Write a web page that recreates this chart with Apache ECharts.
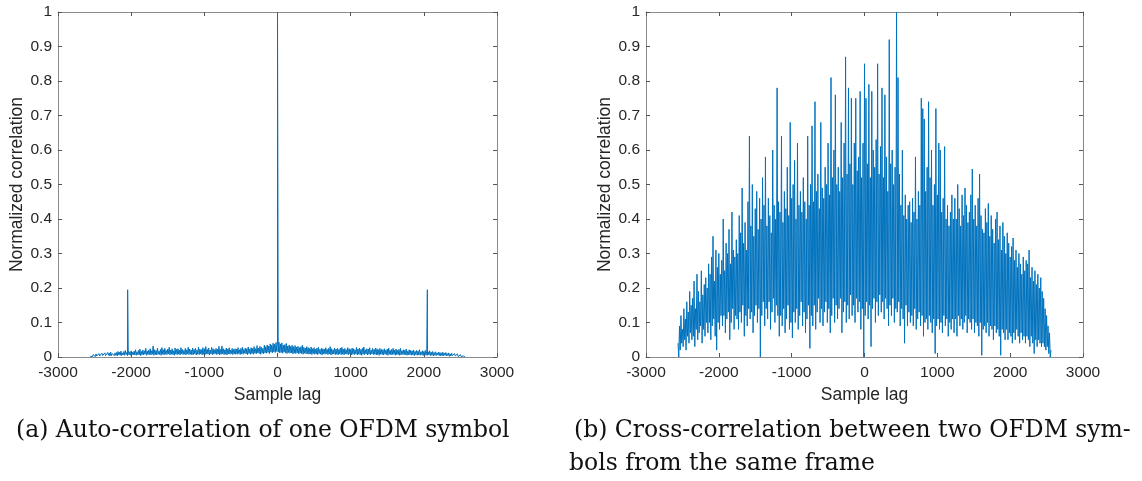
<!DOCTYPE html>
<html>
<head>
<meta charset="utf-8">
<script src="https://cdn.jsdelivr.net/npm/echarts@6/dist/echarts.min.js"></script>
<style>
html,body{margin:0;padding:0;background:#fff;}
#chart{width:1142px;height:481px;}
</style>
</head>
<body>
<div id="chart"></div>
<script>
// ---- Data ----
const xTicks = [-3000, -2000, -1000, 0, 1000, 2000, 3000];
const yTicks = [0, 0.1, 0.2, 0.3, 0.4, 0.5, 0.6, 0.7, 0.8, 0.9, 1];

// Sample-lag grid: peaks at lagStart + step*i, troughs half a step later
const lagStart = -2560;
const lagStep = 20;

// (a) Auto-correlation: local maxima (upper edge of the noise floor)
const autoPeaks = [
  .002,.005,.007,.006,.009,.007,.010,.008,.011,.009,
  .012,.009,.013,.011,.014,.010,.015,.012,.013,.016,
  .014,.017,.012,.016,.019,.013,.020,.015,.018,.014,
  .017,.021,.015,.019,.023,.016,.020,.018,.025,.017,
  .020,.024,.018,.032,.021,.019,.026,.017,.022,.027,
  .021,.025,.019,.023,.028,.020,.024,.018,.026,.022,
  .024,.020,.027,.022,.019,.025,.021,.028,.023,.020,
  .026,.022,.025,.020,.029,.023,.021,.027,.024,.030,
  .022,.026,.020,.028,.024,.021,.025,.023,.031,.022,
  .032,.024,.021,.026,.023,.027,.020,.025,.022,.024,
  .023,.027,.021,.025,.028,.022,.026,.024,.029,.023,
  .027,.025,.030,.024,.033,.026,.031,.028,.025,.034,
  .030,.035,.032,.038,.034,.040,.037,.042,.046,.043,
  .038,.041,.034,.036,.039,.032,.035,.031,.034,.030,
  .033,.029,.031,.027,.030,.034,.028,.026,.030,.027,
  .025,.029,.024,.027,.023,.026,.028,.022,.025,.024,
  .023,.027,.022,.025,.030,.024,.021,.026,.023,.025,
  .022,.026,.028,.023,.025,.021,.027,.024,.022,.026,
  .024,.021,.028,.023,.026,.022,.025,.029,.021,.024,
  .023,.027,.020,.025,.022,.026,.024,.021,.025,.022,
  .021,.024,.020,.023,.026,.019,.022,.025,.020,.023,
  .019,.022,.025,.018,.021,.020,.023,.017,.021,.019,
  .018,.020,.016,.019,.017,.021,.015,.018,.016,.019,
  .017,.015,.018,.014,.016,.013,.015,.012,.014,.013,
  .012,.014,.011,.013,.010,.012,.009,.011,.008,.010,
  .008,.009,.006,.007,.004,.003,.001
];
// (a) Auto-correlation: local minima
const autoTroughs = [
  .000,.001,.002,.001,.003,.002,.003,.002,.004,.003,
  .004,.003,.005,.003,.004,.006,.004,.005,.003,.006,
  .005,.004,.006,.005,.007,.004,.006,.005,.007,.006,
  .006,.005,.007,.006,.004,.007,.006,.008,.005,.007,
  .007,.006,.008,.005,.007,.006,.008,.007,.005,.008,
  .006,.008,.007,.009,.006,.008,.007,.005,.008,.007,
  .008,.006,.009,.007,.008,.006,.009,.007,.008,.006,
  .007,.009,.006,.008,.007,.009,.006,.008,.007,.009,
  .008,.006,.009,.007,.008,.010,.007,.009,.006,.008,
  .009,.007,.008,.006,.009,.008,.010,.007,.009,.008,
  .008,.010,.007,.009,.008,.011,.009,.007,.010,.008,
  .010,.008,.011,.009,.012,.010,.008,.011,.009,.012,
  .011,.013,.010,.014,.012,.015,.013,.016,.014,.012,
  .013,.011,.014,.012,.010,.013,.011,.012,.009,.011,
  .010,.012,.009,.011,.010,.008,.011,.009,.010,.008,
  .009,.007,.010,.008,.009,.007,.010,.008,.006,.009,
  .008,.010,.007,.009,.006,.008,.009,.007,.008,.006,
  .009,.007,.008,.006,.009,.008,.007,.009,.006,.008,
  .007,.009,.006,.008,.007,.005,.008,.007,.009,.006,
  .008,.006,.009,.007,.008,.006,.007,.005,.008,.007,
  .006,.008,.007,.005,.008,.006,.007,.008,.005,.007,
  .007,.005,.006,.008,.006,.007,.005,.006,.007,.005,
  .006,.004,.007,.005,.006,.005,.007,.004,.006,.005,
  .005,.006,.004,.005,.003,.005,.004,.006,.004,.003,
  .004,.003,.005,.003,.004,.002,.003,.004,.002,.003,
  .002,.001,.002,.001,.001,.000
];
// (a) Isolated correlation spikes (cyclic prefix and zero lag)
const autoSpikeLags = [-2048, 0, 2048];
const autoSpikeVals = [0.195, 1.0, 0.195];

// (b) Cross-correlation: local maxima
const crossPeaks = [
  .04,.09,.12,.08,.14,.11,.16,.13,.19,.15,
  .17,.22,.14,.24,.19,.16,.25,.18,.21,.23,
  .20,.27,.24,.29,.35,.22,.31,.26,.30,.24,
  .28,.40,.25,.33,.30,.37,.27,.42,.31,.29,
  .34,.30,.41,.36,.49,.33,.39,.31,.45,.64,
  .38,.50,.35,.43,.48,.37,.46,.40,.52,.44,
  .58,.38,.46,.41,.36,.60,.44,.40,.78,.45,
  .42,.64,.39,.48,.43,.55,.41,.68,.46,.50,
  .57,.40,.62,.44,.48,.42,.52,.45,.40,.64,
  .44,.50,.67,.45,.74,.48,.53,.43,.68,.49,
  .46,.55,.50,.62,.47,.81,.52,.60,.76,.50,
  .55,.48,.68,.52,.62,.87,.53,.78,.56,.75,
  .50,.62,.75,.54,.58,.77,.52,.62,.85,.75,
  .56,.79,.52,.77,.60,.55,.63,.85,.53,.61,
  .78,.52,.76,.58,.48,.92,.56,.60,.50,.55,
  1.0,.81,.53,.44,.60,.41,.47,.40,.44,.45,
  .39,.46,.42,.58,.40,.48,.44,.75,.72,.69,
  .48,.55,.74,.52,.60,.44,.50,.72,.47,.62,
  .60,.42,.46,.61,.40,.44,.38,.42,.47,.40,
  .46,.40,.50,.43,.38,.47,.41,.49,.44,.39,
  .42,.47,.545,.40,.44,.38,.46,.53,.41,.37,
  .36,.43,.39,.445,.35,.41,.37,.33,.40,.42,
  .34,.38,.31,.39,.35,.30,.36,.33,.29,.32,
  .345,.28,.31,.26,.30,.27,.24,.29,.25,.28,
  .27,.31,.23,.26,.22,.25,.21,.24,.20,.23,
  .19,.17,.14,.12,.09,.07,.02
];
// (b) Cross-correlation: local minima
const crossTroughs = [
  .00,.02,.04,.03,.05,.02,.06,.04,.07,.05,
  .06,.03,.08,.05,.07,.09,.04,.08,.06,.10,
  .07,.10,.05,.09,.11,.06,.02,.10,.08,.12,
  .09,.12,.07,.11,.13,.05,.10,.14,.08,.12,
  .11,.08,.13,.10,.15,.06,.12,.09,.14,.11,
  .13,.07,.12,.15,.10,.14,.00,.12,.16,.09,
  .14,.11,.16,.08,.13,.17,.10,.15,.12,.06,
  .12,.09,.14,.07,.11,.15,.08,.10,.055,.13,
  .10,.14,.08,.12,.16,.09,.13,.07,.11,.15,
  .025,.12,.09,.15,.08,.13,.17,.10,.14,.09,
  .13,.16,.10,.14,.07,.12,.17,.10,.15,.11,
  .14,.17,.07,.13,.16,.10,.15,.11,.18,.12,
  .15,.10,.17,.13,.16,.08,.14,.00,.12,.16,
  .11,.15,.03,.14,.17,.10,.16,.12,.18,.13,
  .16,.11,.17,.14,.09,.15,.12,.17,.10,.14,
  .13,.16,.09,.14,.11,.04,.15,.09,.13,.10,
  .12,.09,.14,.08,.11,.13,.09,.12,.06,.10,
  .11,.08,.12,.10,.07,.11,.01,.09,.11,.08,
  .10,.07,.12,.09,.11,.06,.10,.08,.11,.07,
  .11,.06,.12,.09,.11,.08,.10,.12,.07,.11,
  .10,.08,.11,.07,.10,.09,.06,.10,.005,.08,
  .09,.07,.10,.06,.09,.08,.05,.09,.07,.08,
  .06,.005,.08,.07,.05,.08,.05,.07,.06,.04,
  .07,.05,.08,.06,.04,.07,.05,.06,.04,.06,
  .05,.03,.06,.04,.01,.05,.03,.05,.04,.03,
  .04,.03,.02,.03,.01,.00
];

const captionA = '(a) Auto-correlation of one OFDM symbol';
const captionB1 = '(b) Cross-correlation between two OFDM sym-';
const captionB2 = 'bols from the same frame';

// ---- Build series point lists from the arrays ----
function zigzag(peaks, troughs) {
  const pts = [];
  for (let i = 0; i < peaks.length; i++) {
    const lag = lagStart + i * lagStep;
    pts.push([lag, peaks[i]]);
    if (i < troughs.length) pts.push([lag + lagStep / 2, troughs[i]]);
  }
  return pts;
}
const autoData = zigzag(autoPeaks, autoTroughs);
autoSpikeLags.forEach((l, k) => autoData.push([l, autoSpikeVals[k]]));
autoData.sort((a, b) => a[0] - b[0]);
const crossData = zigzag(crossPeaks, crossTroughs);

const BLUE = '#0072BD';
const AX = '#8a8a8a';
const TXT = '#262626';
const SANS = '"Liberation Sans", Arial, Helvetica, sans-serif';
const SERIF = '"DejaVu Serif", "Liberation Serif", serif';

const grids = [
  {left: 58, top: 12, width: 439, height: 345},
  {left: 646, top: 12, width: 437, height: 345}
];

function xAxes(gi) {
  const common = {
    gridIndex: gi, type: 'value',
    min: xTicks[0], max: xTicks[xTicks.length - 1], interval: 1000,
    splitLine: {show: false},
    axisLine: {show: true, onZero: false, lineStyle: {color: AX, width: 1}},
    axisTick: {show: true, inside: true, length: 4, lineStyle: {color: '#555'}}
  };
  return [
    Object.assign({}, common, {
      position: 'bottom',
      name: 'Sample lag', nameLocation: 'middle', nameGap: 27,
      nameTextStyle: {fontFamily: SANS, fontSize: 17.5, color: TXT},
      axisLabel: {show: true, margin: 8, fontFamily: SANS, fontSize: 15.5, color: TXT,
        formatter: v => String(v)}
    }),
    Object.assign({}, common, {position: 'top', axisLabel: {show: false}})
  ];
}
function yAxes(gi) {
  const common = {
    gridIndex: gi, type: 'value',
    min: yTicks[0], max: yTicks[yTicks.length - 1], interval: 0.1,
    splitLine: {show: false},
    axisLine: {show: true, onZero: false, lineStyle: {color: AX, width: 1}},
    axisTick: {show: true, inside: true, length: 4, lineStyle: {color: '#555'}}
  };
  return [
    Object.assign({}, common, {
      position: 'left',
      name: 'Normalized correlation', nameLocation: 'middle', nameGap: 30,
      nameTextStyle: {fontFamily: SANS, fontSize: 17.5, color: TXT},
      axisLabel: {show: true, margin: 6, fontFamily: SANS, fontSize: 15.5, color: TXT,
        formatter: v => String(Math.round(v * 10) / 10)}
    }),
    Object.assign({}, common, {position: 'right', axisLabel: {show: false}})
  ];
}

const chart = echarts.init(document.getElementById('chart'), null, {renderer: 'canvas'});
chart.setOption({
  animation: false,
  backgroundColor: '#ffffff',
  grid: grids,
  xAxis: [...xAxes(0), ...xAxes(1)],
  yAxis: [...yAxes(0), ...yAxes(1)],
  title: [
    {text: captionA, left: 16, top: 419, padding: 0,
      textStyle: {fontFamily: SERIF, fontWeight: 'normal', fontSize: 23.5, color: '#111'}},
    {text: captionB1, left: 574, top: 419, padding: 0,
      textStyle: {fontFamily: SERIF, fontWeight: 'normal', fontSize: 23.5, color: '#111'}},
    {text: captionB2, left: 569, top: 452, padding: 0,
      textStyle: {fontFamily: SERIF, fontWeight: 'normal', fontSize: 23.5, color: '#111'}}
  ],
  series: [
    {type: 'line', xAxisIndex: 0, yAxisIndex: 0, data: autoData, symbol: 'none',
      sampling: null, lineStyle: {color: BLUE, width: 1}, silent: true},
    {type: 'line', xAxisIndex: 2, yAxisIndex: 2, data: crossData, symbol: 'none',
      sampling: null, lineStyle: {color: BLUE, width: 1}, silent: true}
  ]
});
</script>
</body>
</html>
